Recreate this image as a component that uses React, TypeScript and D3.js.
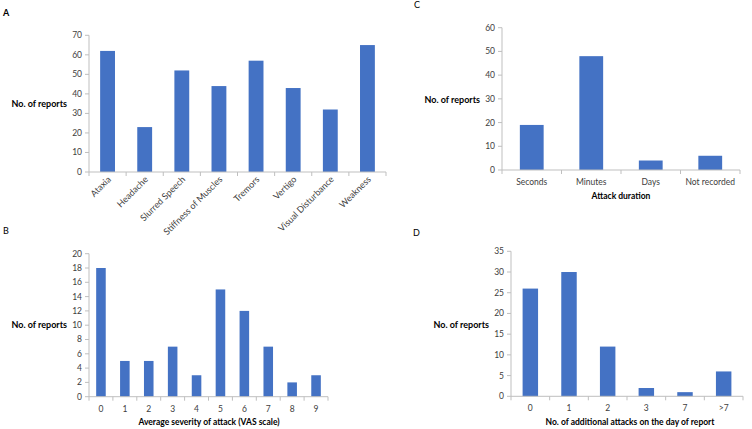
import React, { useEffect, useRef } from 'react';
import * as d3 from 'd3';

const symptomCats = ['Ataxia', 'Headache', 'Slurred Speech', 'Stiffness of Muscles', 'Tremors', 'Vertigo', 'Visual Disturbance', 'Weakness'];
const symptomVals = [62, 23, 52, 44, 57, 43, 32, 65];

const severityCats = ['0', '1', '2', '3', '4', '5', '6', '7', '8', '9'];
const severityVals = [18, 5, 5, 7, 3, 15, 12, 7, 2, 3];

const durationCats = ['Seconds', 'Minutes', 'Days', 'Not recorded'];
const durationVals = [19, 48, 4, 6];

const extraCats = ['0', '1', '2', '3', '7', '>7'];
const extraVals = [26, 30, 12, 2, 1, 6];

interface Panel {
  letter: string;
  letterBold: boolean;
  letterPos: [number, number];
  cats: string[];
  vals: number[];
  yMax: number;
  yStep: number;
  x0: number;
  x1: number;
  y0: number;
  y1: number;
  yLabelPos: [number, number];
  title?: string;
  titlePos?: [number, number];
  rotate?: boolean;
}

const panels: Panel[] = [
  {
    letter: 'A', letterBold: true, letterPos: [3, 16],
    cats: symptomCats, vals: symptomVals, yMax: 70, yStep: 10,
    x0: 89, x1: 386, y0: 172, y1: 35.3,
    yLabelPos: [67, 104], rotate: true,
  },
  {
    letter: 'C', letterBold: false, letterPos: [414, 8],
    cats: durationCats, vals: durationVals, yMax: 60, yStep: 10,
    x0: 502, x1: 740, y0: 170, y1: 27.7,
    yLabelPos: [480, 100], title: 'Attack duration', titlePos: [621, 199],
  },
  {
    letter: 'B', letterBold: false, letterPos: [3, 234],
    cats: severityCats, vals: severityVals, yMax: 20, yStep: 2,
    x0: 89, x1: 328, y0: 396.7, y1: 253.7,
    yLabelPos: [67, 325], title: 'Average severity of attack (VAS scale)', titlePos: [209, 425],
  },
  {
    letter: 'D', letterBold: false, letterPos: [413, 236],
    cats: extraCats, vals: extraVals, yMax: 35, yStep: 5,
    x0: 511, x1: 743, y0: 396.3, y1: 251.3,
    yLabelPos: [489, 325], title: 'No. of additional attacks on the day of report', titlePos: [630, 425],
  },
];

const FONT = 'Lato, "Open Sans", sans-serif';
const AXIS = '#bfbfbf';
const BAR = '#4472c4';
const TEXT = '#404040';
const FS = 8.5;

export default function App() {
  const svgRef = useRef<SVGSVGElement>(null);

  useEffect(() => {
    if (!svgRef.current) return;
    const svg = d3.select(svgRef.current);
    svg.selectAll('*').remove();

    panels.forEach(p => {
      const g = svg.append('g').attr('font-family', FONT);

      const x = d3.scaleBand().domain(p.cats).range([p.x0, p.x1]).paddingInner(0.6).paddingOuter(0.3);
      const xb = d3.scaleBand().domain(p.cats).range([p.x0, p.x1]);
      const y = d3.scaleLinear().domain([0, p.yMax]).range([p.y0, p.y1]);

      g.append('text')
        .attr('x', p.letterPos[0]).attr('y', p.letterPos[1])
        .attr('font-size', 9).attr('font-weight', p.letterBold ? 'bold' : 'normal')
        .attr('fill', '#000').text(p.letter);

      // bars
      g.selectAll('rect.bar').data(p.vals).enter().append('rect')
        .attr('x', (_, i) => x(p.cats[i])!)
        .attr('width', x.bandwidth())
        .attr('y', d => y(d))
        .attr('height', d => p.y0 - y(d))
        .attr('fill', BAR);

      // y axis
      const ticks = d3.range(0, p.yMax + 0.001, p.yStep);
      g.append('line').attr('x1', p.x0).attr('x2', p.x0).attr('y1', p.y0).attr('y2', p.y1).attr('stroke', AXIS);
      g.selectAll('line.yt').data(ticks).enter().append('line')
        .attr('x1', p.x0 - 4).attr('x2', p.x0).attr('y1', d => y(d)).attr('y2', d => y(d)).attr('stroke', AXIS);
      g.selectAll('text.yt').data(ticks).enter().append('text')
        .attr('x', p.x0 - 7).attr('y', d => y(d)).attr('dy', '0.35em')
        .attr('text-anchor', 'end').attr('font-size', FS).attr('fill', TEXT)
        .text(d => String(d));

      // x axis
      g.append('line').attr('x1', p.x0).attr('x2', p.x1).attr('y1', p.y0).attr('y2', p.y0).attr('stroke', AXIS);
      const bounds = p.cats.map(c => xb(c)!).concat([p.x1]);
      g.selectAll('line.xt').data(bounds).enter().append('line')
        .attr('x1', d => d).attr('x2', d => d).attr('y1', p.y0).attr('y2', p.y0 + 4).attr('stroke', AXIS);

      const mid = (c: string) => xb(c)! + xb.bandwidth() / 2;
      if (p.rotate) {
        g.selectAll('text.xl').data(p.cats).enter().append('text')
          .attr('transform', c => `translate(${mid(c) + 4},${p.y0 + 8}) rotate(-45)`)
          .attr('text-anchor', 'end').attr('font-size', 9).attr('fill', TEXT)
          .text(c => c);
      } else {
        g.selectAll('text.xl').data(p.cats).enter().append('text')
          .attr('x', c => mid(c)).attr('y', p.y0 + 15)
          .attr('text-anchor', 'middle').attr('font-size', FS).attr('fill', TEXT)
          .text(c => c);
      }

      g.append('text')
        .attr('x', p.yLabelPos[0]).attr('y', p.yLabelPos[1]).attr('dy', '0.35em')
        .attr('text-anchor', 'end').attr('font-size', 9).attr('font-weight', 'bold').attr('fill', '#000')
        .text('No. of reports');

      if (p.title && p.titlePos) {
        g.append('text')
          .attr('x', p.titlePos[0]).attr('y', p.titlePos[1])
          .attr('text-anchor', 'middle').attr('font-size', FS).attr('font-weight', 'bold').attr('fill', '#000')
          .text(p.title);
      }
    });
  }, []);

  return (
    <svg ref={svgRef} width={752} height={429}
      style={{ display: 'block', position: 'absolute', left: 0, top: 0, background: '#fff' }} />
  );
}
